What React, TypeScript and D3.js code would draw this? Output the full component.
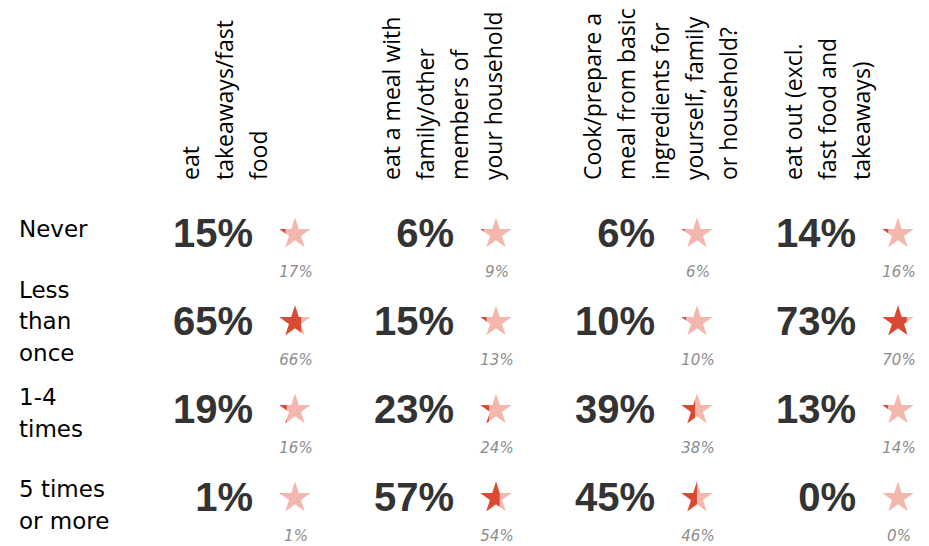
import React from "react";
import * as d3 from "d3";

// column headers (questions), one entry per wrapped line
const questions = [
  ["eat", "takeaways/fast", "food"],
  ["eat a meal with", "family/other", "members of", "your household"],
  ["Cook/prepare a", "meal from basic", "ingredients for", "yourself, family", "or household?"],
  ["eat out (excl.", "fast food and", "takeaways)"],
];

// row labels (answers)
const answers = [["Never"], ["Less", "than", "once"], ["1-4", "times"], ["5 times", "or more"]];

// big percentages, rows = answers, cols = questions
const values = [
  [15, 6, 6, 14],
  [65, 15, 10, 73],
  [19, 23, 39, 13],
  [1, 57, 45, 0],
];

// small comparison percentages under the stars
const compare = [
  [17, 9, 6, 16],
  [66, 13, 10, 70],
  [16, 24, 38, 14],
  [1, 54, 46, 0],
];

const W = 929;
const H = 546;
const starR = 16.5;
const darkRed = "#da4a33";
const lightRed = "#f4b7ad";

const App = () => {
  const colX = d3.scalePoint<number>().domain(d3.range(questions.length)).range([253, 856]);
  const rowY = d3.scalePoint<number>().domain(d3.range(answers.length)).range([233, 497]);
  // row labels sit on their own rhythm
  const labelY = d3.scalePoint<number>().domain(d3.range(answers.length)).range([229, 505]);

  const starPath = d3.symbol().type(d3.symbolStar).size((starR * starR) / 0.8908130915292852)() as string;
  const starHalfW = starR * Math.sin((72 * Math.PI) / 180);
  const fillW = d3.scaleLinear().domain([0, 100]).range([0, starHalfW * 2]);

  return (
    <div>
      <style>{`body{margin:0}`}</style>
      <svg width={W} height={H} style={{ display: "block", background: "#fff" }}>
        <defs>
          <clipPath id="starClip">
            <path d={starPath} />
          </clipPath>
        </defs>

        {/* headers */}
        {questions.map((lines, c) => (
          <g key={"h" + c} fontFamily="'Open Sans', sans-serif" fontSize={23} fill="#000">
            {lines.map((ln, j) => {
              const x = (colX(c) as number) - 54 + j * 34;
              return (
                <text key={j} transform={`translate(${x},180) rotate(-90)`} textAnchor="start">
                  {ln}
                </text>
              );
            })}
          </g>
        ))}

        {/* row labels */}
        {answers.map((lines, r) => {
          const cy = labelY(r) as number;
          const lh = 31.5;
          const y0 = cy - ((lines.length - 1) * lh) / 2 + 8;
          return (
            <g key={"r" + r} fontFamily="'DejaVu Sans', sans-serif" fontSize={23} fill="#000">
              {lines.map((ln, j) => (
                <text key={j} x={19} y={y0 + j * lh}>
                  {ln}
                </text>
              ))}
            </g>
          );
        })}

        {/* cells */}
        {values.map((row, r) =>
          row.map((v, c) => {
            const x = colX(c) as number;
            const y = rowY(r) as number;
            const sx = x + 42;
            const sy = y + 1;
            return (
              <g key={`c${r}-${c}`}>
                <text
                  x={x}
                  y={y + 14}
                  textAnchor="end"
                  fontFamily="'Liberation Sans', Arial, sans-serif"
                  fontWeight="bold"
                  fontSize={40}
                  fill="#333"
                >
                  {v}%
                </text>
                <g transform={`translate(${sx},${sy})`}>
                  <path d={starPath} fill={lightRed} />
                  <rect
                    x={-starHalfW}
                    y={-starR}
                    width={v > 0 ? fillW(v) + 1.5 : 0}
                    height={starR * 2}
                    fill={darkRed}
                    clipPath="url(#starClip)"
                  />
                </g>
                <text
                  x={sx + 1}
                  y={y + 44}
                  textAnchor="middle"
                  fontFamily="'DejaVu Sans', sans-serif"
                  fontStyle="italic"
                  fontSize={15}
                  fill="#8c8c8c"
                >
                  {compare[r][c]}%
                </text>
              </g>
            );
          })
        )}
      </svg>
    </div>
  );
};

export default App;
